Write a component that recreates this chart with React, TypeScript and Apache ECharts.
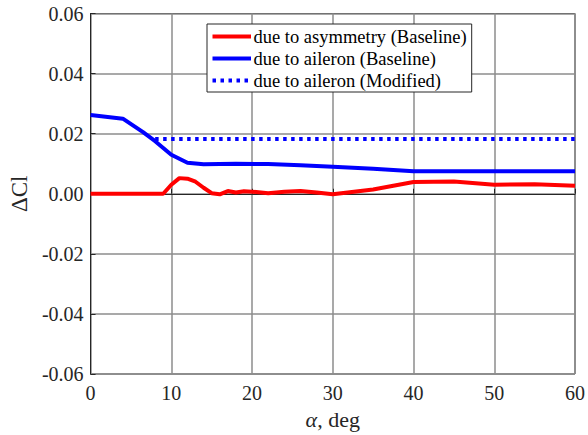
import React, { useEffect, useRef } from "react";
import * as echarts from "echarts";

const xTicks = [0, 10, 20, 30, 40, 50, 60];
const yTicks = [-0.06, -0.04, -0.02, 0, 0.02, 0.04, 0.06];

const seriesNames = [
  "due to asymmetry (Baseline)",
  "due to aileron (Baseline)",
  "due to aileron (Modified)",
];

const asymmetryBaseline: [number, number][] = [
  [0, 0], [9, 0], [10, 0.003], [11, 0.0052], [12, 0.005], [13, 0.004],
  [14, 0.002], [15, 0.0002], [16, -0.0002], [17, 0.0009], [18, 0.0004],
  [19, 0.0008], [20, 0.0007], [22, 0.0002], [24, 0.0007], [26, 0.0009],
  [28, 0.0004], [30, -0.0002], [35, 0.0014], [40, 0.0039], [45, 0.0041],
  [50, 0.003], [55, 0.0032], [60, 0.0027],
];

const aileronBaseline: [number, number][] = [
  [0, 0.0262], [4, 0.025], [6.5, 0.0205], [8, 0.0175], [10, 0.013],
  [12, 0.0103], [14, 0.0098], [18, 0.01], [22, 0.0099], [26, 0.0095],
  [30, 0.009], [35, 0.0083], [40, 0.0075], [45, 0.0075], [50, 0.0075],
  [55, 0.0075], [60, 0.0075],
];

const aileronModified: [number, number][] = [
  [8, 0.0182], [60, 0.0182],
];

const FONT = "'Liberation Serif', 'Times New Roman', serif";

export default function App() {
  const ref = useRef<HTMLDivElement>(null);
  useEffect(() => {
    if (!ref.current) return;
    const chart = echarts.init(ref.current, null, { renderer: "svg" });
    const axisLine = { show: true, lineStyle: { color: "#262626", width: 1 } };
    const split = { show: true, lineStyle: { color: "#8c8c8c", width: 1.5 } };
    chart.setOption({
      animation: false,
      backgroundColor: "#ffffff",
      textStyle: { fontFamily: FONT },
      grid: {
        left: 90, top: 13.5, width: 489.5, height: 362.5,
        show: true, borderColor: "#262626", borderWidth: 1,
        containLabel: false,
      },
      legend: {
        orient: "vertical",
        left: 207, top: 24,
        data: seriesNames,
        backgroundColor: "#ffffff",
        borderColor: "#262626",
        borderWidth: 1,
        padding: [3, 5, 2, 3.5],
        itemWidth: 38.5, itemHeight: 12, itemGap: 3,
        itemStyle: { opacity: 0 },
        lineStyle: { width: 4 },
        textStyle: { fontFamily: FONT, fontSize: 18.5, color: "#000", padding: [0, 0, 0, -2.5] },
      },
      xAxis: {
        type: "value", min: 0, max: 60, interval: 10,
        axisLine, splitLine: split,
        axisTick: { show: true, inside: true, length: 5, lineStyle: { color: "#262626" } },
        axisLabel: { fontFamily: FONT, fontSize: 20, color: "#262626", margin: 9 },
        name: "{i|α}, deg",
        nameLocation: "middle",
        nameGap: 34,
        nameTextStyle: {
          fontFamily: FONT, fontSize: 22, color: "#262626",
          rich: { i: { fontFamily: FONT, fontStyle: "italic", fontSize: 22, color: "#262626" } },
        },
      },
      yAxis: {
        type: "value", min: -0.06, max: 0.06, interval: 0.02,
        axisLine, splitLine: split,
        axisTick: { show: true, inside: true, length: 5, lineStyle: { color: "#262626" } },
        axisLabel: {
          fontFamily: FONT, fontSize: 20, color: "#262626", margin: 7,
          formatter: (v: number) => v.toFixed(2),
        },
        name: "ΔCl",
        nameLocation: "middle",
        nameGap: 56,
        nameTextStyle: { fontFamily: FONT, fontSize: 23, color: "#262626" },
      },
      series: [
        {
          name: seriesNames[0], type: "line", data: asymmetryBaseline,
          showSymbol: false, symbol: "none",
          lineStyle: { color: "#ff0000", width: 4 }, itemStyle: { color: "#ff0000" }, z: 3,
        },
        {
          name: seriesNames[1], type: "line", data: aileronBaseline,
          showSymbol: false, symbol: "none",
          lineStyle: { color: "#0000ff", width: 4 }, itemStyle: { color: "#0000ff" }, z: 3,
        },
        {
          name: seriesNames[2], type: "line", data: aileronModified,
          showSymbol: false, symbol: "none",
          lineStyle: { color: "#0000ff", width: 4, type: [3.5, 4.5], cap: "butt" },
          itemStyle: { color: "#0000ff" }, z: 3,
        },
      ],
    });
    return () => chart.dispose();
  }, []);
  return (
    <div
      ref={ref}
      style={{ position: "fixed", left: 0, top: 0, width: 588, height: 435, background: "#fff" }}
    />
  );
}
